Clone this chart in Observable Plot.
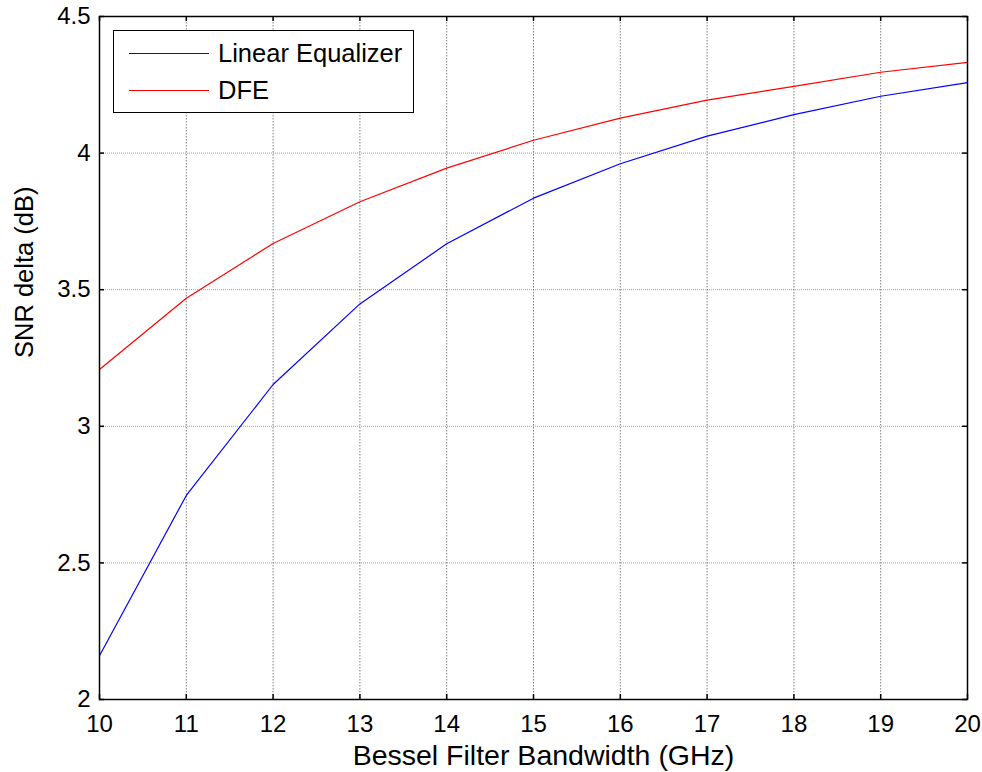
<!DOCTYPE html>
<html><head><meta charset="utf-8">
<script src="https://cdn.jsdelivr.net/npm/d3@7"></script>
<script src="https://cdn.jsdelivr.net/npm/@observablehq/plot@0.6"></script>
<style>
body{margin:0;background:#fff}
#wrap{position:relative;width:982px;height:772px;font-family:"Liberation Sans",Arial,sans-serif;background:#fff}
#legend{position:absolute;left:113px;top:30px;width:299px;height:81px;border:1.5px solid #000;background:#fff;box-sizing:content-box}
.item{position:absolute;left:15px;height:26px;display:flex;align-items:center;font-size:25.5px;color:#000;white-space:nowrap}
.swatch{width:80px;height:1px;margin-right:9px}
</style>
</head><body><div id="wrap"></div>
<script>
const bandwidth = [10, 11, 12, 13, 14, 15, 16, 17, 18, 19, 20];
const linearEq = [2.16, 2.747, 3.153, 3.448, 3.668, 3.835, 3.961, 4.062, 4.141, 4.208, 4.258];
const dfe = [3.208, 3.469, 3.669, 3.822, 3.945, 4.047, 4.128, 4.194, 4.244, 4.296, 4.332];
const seriesNames = ["Linear Equalizer", "DFE"];
const seriesColors = ["#0000ff", "#ff0000"];
const xTicks = [10, 11, 12, 13, 14, 15, 16, 17, 18, 19, 20];
const yTicks = [2, 2.5, 3, 3.5, 4, 4.5];
const xLabel = "Bessel Filter Bandwidth (GHz)";
const yLabel = "SNR delta (dB)";

const rows = bandwidth.flatMap((b, i) => [
  {b, v: linearEq[i], s: seriesNames[0]},
  {b, v: dfe[i], s: seriesNames[1]}
]);

const W = 982, H = 772, mL = 99, mR = 15, mT = 16, mB = 73;
const fw = W - mL - mR, fh = H - mT - mB, tk = 5;

const chart = Plot.plot({
  width: W, height: H,
  marginLeft: mL, marginRight: mR, marginTop: mT, marginBottom: mB,
  x: {domain: [10, 20], axis: null},
  y: {domain: [2, 4.5], axis: null},
  color: {domain: seriesNames, range: seriesColors},
  style: {fontFamily: '"Liberation Sans", Arial, sans-serif', color: "#000", background: "#fff", overflow: "visible"},
  marks: [
    Plot.gridX(xTicks, {stroke: "#000", strokeOpacity: 0.5, strokeDasharray: "1.5,1.5", strokeWidth: 1}),
    Plot.gridY(yTicks, {stroke: "#000", strokeOpacity: 0.3, strokeDasharray: "1,1", strokeWidth: 1.2}),
    Plot.lineY(rows, {x: "b", y: "v", stroke: "s", strokeWidth: 1.2}),
    Plot.tickX(xTicks, {x: d => d, stroke: "#000", strokeWidth: 1.5, insetTop: fh - tk}),
    Plot.tickX(xTicks, {x: d => d, stroke: "#000", strokeWidth: 1.5, insetBottom: fh - tk}),
    Plot.tickY(yTicks, {y: d => d, stroke: "#000", strokeWidth: 1.5, insetRight: fw - tk}),
    Plot.tickY(yTicks, {y: d => d, stroke: "#000", strokeWidth: 1.5, insetLeft: fw - tk}),
    Plot.frame({stroke: "#000", strokeWidth: 1.5}),
    Plot.text(xTicks, {x: d => d, text: d => String(d), frameAnchor: "bottom", dy: 25, lineAnchor: "middle", fontSize: 24, fill: "#000"}),
    Plot.text(yTicks, {y: d => d, text: d => String(d), frameAnchor: "left", dx: -9, textAnchor: "end", lineAnchor: "middle", fontSize: 24, fill: "#000"}),
    Plot.text([xLabel], {text: d => d, frameAnchor: "bottom", dy: 56, dx: 10, lineAnchor: "middle", fontSize: 28.5, fill: "#000"}),
    Plot.text([yLabel], {text: d => d, frameAnchor: "left", dx: -75, rotate: -90, lineAnchor: "middle", fontSize: 25.5, fill: "#000"})
  ]
});

const wrap = document.getElementById("wrap");
wrap.appendChild(chart);

const legend = document.createElement("div");
legend.id = "legend";
seriesNames.forEach((name, i) => {
  const item = document.createElement("div");
  item.className = "item";
  item.style.top = (i === 0 ? 9 : 46) + "px";
  const sw = document.createElement("div");
  sw.className = "swatch";
  sw.style.background = seriesColors[i];
  const t = document.createElement("span");
  t.textContent = name;
  item.appendChild(sw);
  item.appendChild(t);
  legend.appendChild(item);
});
wrap.appendChild(legend);
</script>
</body></html>
